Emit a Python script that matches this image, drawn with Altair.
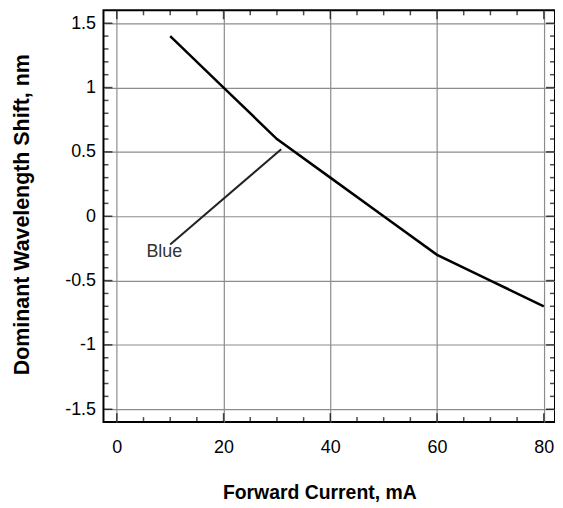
import altair as alt
import pandas as pd

# Data
current = [10, 20, 30, 40, 50, 60, 70, 80]
shift = [1.4, 1.0, 0.6, 0.3, 0.0, -0.3, -0.5, -0.7]

x_major = [0, 20, 40, 60, 80]
x_minor = [5, 10, 15, 25, 30, 35, 45, 50, 55, 65, 70, 75]
y_major = [-1.5, -1.0, -0.5, 0.0, 0.5, 1.0, 1.5]
y_minor = [-1.4, -1.3, -1.2, -1.1, -0.9, -0.8, -0.7, -0.6, -0.4, -0.3, -0.2, -0.1,
           0.1, 0.2, 0.3, 0.4, 0.6, 0.7, 0.8, 0.9, 1.1, 1.2, 1.3, 1.4]

leader_x = [10.0, 30.8]
leader_y = [-0.22, 0.52]
label_text = ["Blue"]
label_x = [8.9]
label_y = [-0.28]

W, H = 454, 414
FONT = "Liberation Sans"

xs = alt.Scale(domain=[-2.5, 82.1], nice=False, zero=False)
ys = alt.Scale(domain=[-1.6, 1.6], nice=False, zero=False)

X_AX = alt.Axis(
    values=x_major, grid=True, ticks=False, domain=False,
    gridColor="#8c8c8c", gridWidth=1.2, gridOpacity=1,
    labelFont=FONT, labelFontSize=18, labelColor="black", labelPadding=17,
    labelExpr="'' + datum.value",
    title="Forward Current, mA", titleFont=FONT, titleFontSize=19.5,
    titleFontWeight="bold", titleColor="black",
    titleBaseline="alphabetic", titleAlign="center", titleX=217, titleY=77)
Y_AX = alt.Axis(
    values=y_major, grid=True, ticks=False, domain=False,
    gridColor="#8c8c8c", gridWidth=1.2, gridOpacity=1,
    labelFont=FONT, labelFontSize=18, labelColor="black", labelPadding=8,
    labelExpr="'' + datum.value",
    title="Dominant Wavelength Shift, nm", titleFont=FONT, titleFontSize=21.5,
    titleFontWeight="bold", titleColor="black",
    titleBaseline="alphabetic", titleAngle=270, titleAlign="center",
    titleX=-75, titleY=205)

main = alt.Chart(pd.DataFrame({"I": current, "S": shift})).mark_line(
    color="black", strokeWidth=2.5
).encode(
    x=alt.X("I:Q", scale=xs, axis=X_AX),
    y=alt.Y("S:Q", scale=ys, axis=Y_AX),
)

def xticks(vals, size, ypos):
    return alt.Chart(pd.DataFrame({"v": vals})).mark_tick(
        orient="vertical", size=size, thickness=1.5, color="black"
    ).encode(x=alt.X("v:Q", scale=xs, axis=X_AX), y=alt.value(ypos))

def yticks(vals, size, xpos):
    return alt.Chart(pd.DataFrame({"v": vals})).mark_tick(
        orient="horizontal", size=size, thickness=1.5, color="black"
    ).encode(y=alt.Y("v:Q", scale=ys, axis=Y_AX), x=alt.value(xpos))

tick_layers = [
    xticks(x_major, 9, H - 4.5), xticks(x_major, 9, 4.5),
    xticks(x_minor, 5, H - 2.5), xticks(x_minor, 5, 2.5),
    yticks(y_major, 9, 4.5), yticks(y_major, 9, W - 4.5),
    yticks(y_minor, 5, 2.5), yticks(y_minor, 5, W - 2.5),
]

leader = alt.Chart(pd.DataFrame({"x": leader_x, "y": leader_y})).mark_line(
    color="#222222", strokeWidth=2
).encode(x=alt.X("x:Q", scale=xs, axis=X_AX), y=alt.Y("y:Q", scale=ys, axis=Y_AX))

label = alt.Chart(pd.DataFrame({"t": label_text, "x": label_x, "y": label_y})).mark_text(
    font=FONT, fontSize=18, color="#333333", align="center", baseline="middle"
).encode(x=alt.X("x:Q", scale=xs, axis=X_AX), y=alt.Y("y:Q", scale=ys, axis=Y_AX), text="t:N")

chart = alt.layer(main, leader, label, *tick_layers).properties(
    width=W, height=H,
    autosize=alt.AutoSizeParams(type="none"),
    padding={"left": 96, "top": 1, "right": 0, "bottom": 84},
).configure_view(stroke="black", strokeWidth=2)

chart.save("out.html", embed_options={"renderer": "svg", "actions": False})
